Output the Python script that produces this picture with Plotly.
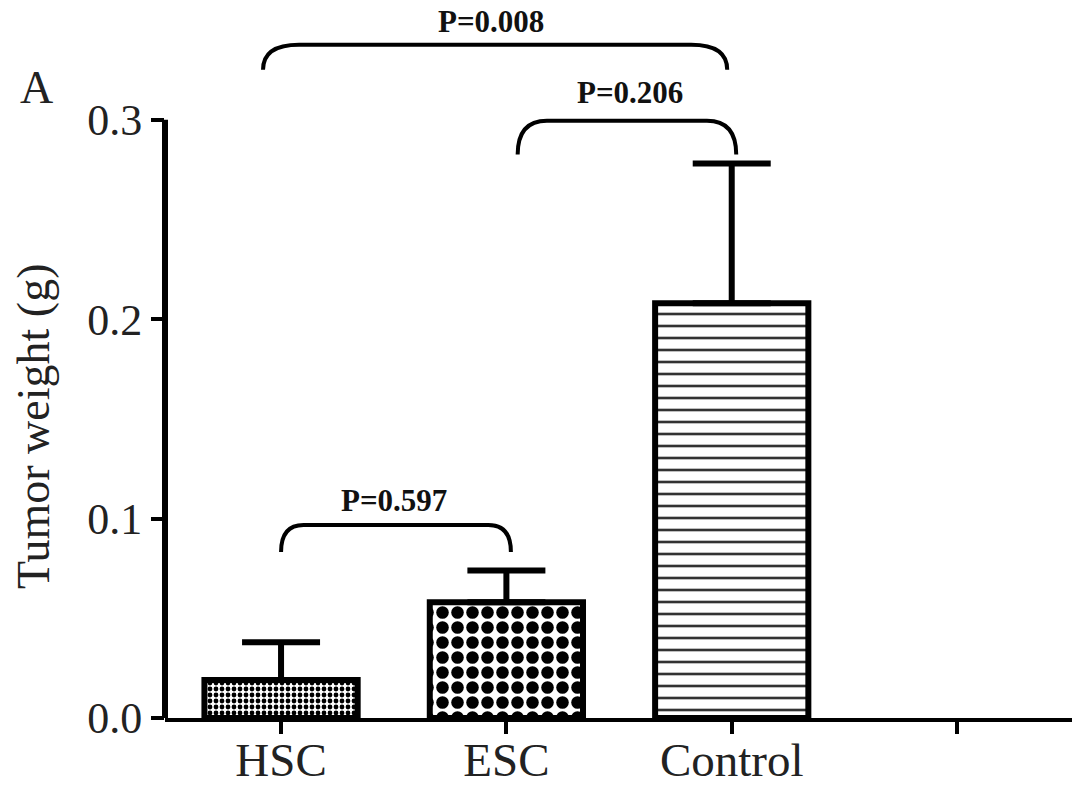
import plotly.graph_objects as go

# ---- data ----
categories = ["HSC", "ESC", "Control", ""]
bar_pos = [0, 1, 2]
means = [0.019, 0.058, 0.208]
errors = [0.019, 0.016, 0.070]
patterns = [".", ".", "-"]
pattern_sizes = [6, 15, 12]
pattern_solidity = [0.5, 0.55, 0.22]
pattern_colors = ["black", "black", "#333333"]

y_ticks = [0.0, 0.1, 0.2, 0.3]
y_tick_labels = ["0.0", "0.1", "0.2", "0.3"]

# significance brackets: (x_start, x_end, y_top, y_end, label)
br_x0 = [-0.08, 1.05, 0.0]
br_x1 = [1.98, 2.02, 1.02]
br_top = [0.3376, 0.2995, 0.0968]
br_end = [0.3250, 0.2825, 0.0833]
br_rx = [0.16, 0.13, 0.10]
br_label = ["P=0.008", "P=0.206", "P=0.597"]
br_label_x = [0.93, 1.55, 0.50]
br_label_y = [0.349, 0.3135, 0.109]

SERIF = "Liberation Serif, Times New Roman, serif"

fig = go.Figure()
fig.add_trace(go.Bar(
    x=bar_pos, y=means, width=0.68,
    marker=dict(
        color="white",
        line=dict(color="black", width=6),
        pattern=dict(shape=patterns, size=pattern_sizes, solidity=pattern_solidity,
                     fgcolor=pattern_colors, bgcolor="white", fgopacity=1, fillmode="overlay"),
    ),
    error_y=dict(type="data", symmetric=False, array=errors,
                 arrayminus=[0, 0, 0], color="black", thickness=6, width=39),
    showlegend=False,
))

shapes = []
# y axis line (only up to 0.3)
shapes.append(dict(type="line", xref="paper", yref="y", x0=0, x1=0,
                   y0=0, y1=y_ticks[-1], line=dict(color="black", width=6)))
for x0, x1, yt, ye, rx in zip(br_x0, br_x1, br_top, br_end, br_rx):
    path = (f"M {x0},{ye} Q {x0},{yt} {x0 + rx},{yt} "
            f"L {x1 - rx},{yt} Q {x1},{yt} {x1},{ye}")
    shapes.append(dict(type="path", xref="x", yref="y", path=path,
                       line=dict(color="black", width=4)))

annotations = []
for lx, ly, lab in zip(br_label_x, br_label_y, br_label):
    annotations.append(dict(x=lx, y=ly, xref="x", yref="y", text=f"<b>{lab}</b>",
                            showarrow=False, font=dict(family=SERIF, size=31, color="#111")))
annotations.append(dict(x=-0.162, y=0.9026, xref="paper", yref="paper", text="A",
                        xanchor="left", yanchor="middle", showarrow=False,
                        font=dict(family=SERIF, size=46, color="#222")))
annotations.append(dict(x=-0.1444, y=0.417, xref="paper", yref="paper",
                        text="Tumor weight (g)", textangle=-90,
                        xanchor="center", yanchor="middle", showarrow=False,
                        font=dict(family=SERIF, size=46, color="#222")))

fig.update_layout(
    width=1089, height=798,
    margin=dict(l=165, r=17, t=20, b=80),
    plot_bgcolor="white", paper_bgcolor="white",
    shapes=shapes, annotations=annotations,
    xaxis=dict(range=[-0.515, 3.51], tickmode="array", tickvals=[0, 1, 2, 3],
               ticktext=categories, showline=True, linecolor="black", linewidth=4,
               ticks="outside", ticklen=12, tickwidth=4, tickcolor="black",
               ticklabelstandoff=-14,
               showgrid=False, zeroline=False, automargin=False,
               tickfont=dict(family=SERIF, size=47, color="#222")),
    yaxis=dict(range=[0, 0.35], tickmode="array", tickvals=y_ticks, ticktext=y_tick_labels,
               showline=False, ticks="outside", ticklen=13, tickwidth=4, tickcolor="black",
               showgrid=False, zeroline=False, automargin=False,
               tickfont=dict(family=SERIF, size=44, color="#222")),
)

fig.write_html("out.html", config={"displayModeBar": False},
               post_script="document.body.style.margin='0';document.body.style.overflow='hidden';")
